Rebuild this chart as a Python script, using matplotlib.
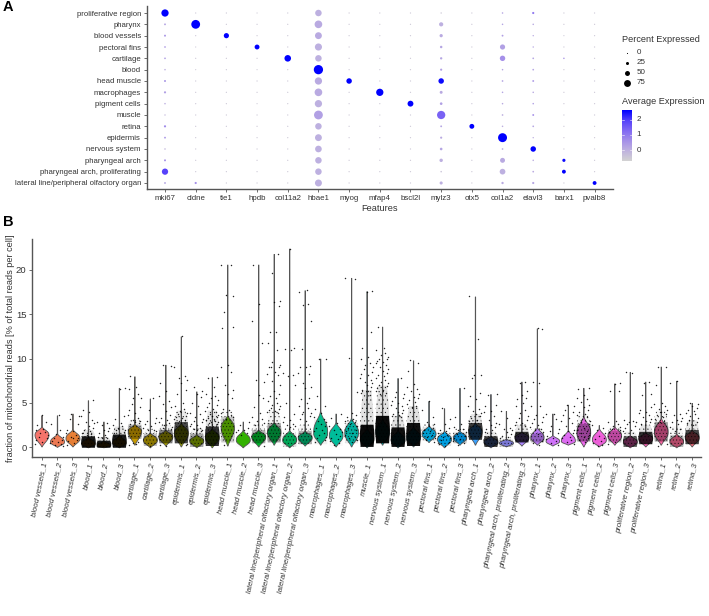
"""Dot plot of marker genes (A) and mitochondrial read violins per sample (B)."""

import matplotlib
matplotlib.use("Agg")
import matplotlib.pyplot as plt
import numpy as np
from matplotlib.colors import LinearSegmentedColormap

plt.rcParams['font.family'] = ['Liberation Sans', 'DejaVu Sans']
plt.rcParams['hatch.linewidth'] = 0.3

W, H = 709, 616

# ---- panel A data ----
clusters = ["proliferative region", "pharynx", "blood vessels", "pectoral fins", "cartilage",
            "blood", "head muscle", "macrophages", "pigment cells", "muscle", "retina",
            "epidermis", "nervous system", "pharyngeal arch", "pharyngeal arch, proliferating",
            "lateral line/peripheral olfactory organ"]
features = ["mki67", "cldne", "tie1", "hpdb", "col11a2", "hbae1", "myog", "mfap4", "bscl2l",
            "mylz3", "otx5", "col1a2", "elavl3", "barx1", "pvalb8"]
pct_expressed = [
    [80, 2, 2, 1, 2, 70, 2, 2, 2, 4, 2, 6, 14, 2, 2],
    [10, 100, 2, 2, 2, 85, 2, 2, 2, 40, 2, 6, 6, 2, 2],
    [12, 2, 53, 2, 2, 75, 2, 2, 2, 28, 2, 10, 4, 1, 2],
    [8, 1, 2, 49, 2, 78, 2, 2, 2, 18, 2, 53, 4, 2, 2],
    [8, 2, 2, 2, 71, 70, 2, 2, 2, 16, 2, 56, 8, 6, 2],
    [6, 1, 2, 1, 2, 106, 2, 1, 2, 14, 2, 6, 8, 2, 2],
    [12, 2, 2, 2, 2, 80, 57, 2, 2, 57, 2, 8, 10, 2, 2],
    [14, 2, 2, 2, 2, 85, 2, 80, 2, 24, 2, 6, 6, 2, 2],
    [6, 2, 2, 1, 2, 80, 2, 2, 62, 20, 2, 6, 6, 2, 2],
    [4, 2, 2, 2, 2, 100, 2, 2, 2, 93, 2, 8, 10, 2, 2],
    [14, 2, 2, 2, 2, 70, 2, 2, 2, 10, 49, 6, 8, 2, 2],
    [10, 2, 2, 2, 2, 75, 2, 2, 2, 14, 2, 102, 4, 2, 2],
    [6, 2, 2, 2, 2, 72, 2, 2, 2, 20, 2, 8, 57, 2, 2],
    [12, 2, 2, 2, 2, 70, 2, 2, 2, 30, 2, 50, 6, 27, 2],
    [67, 2, 2, 2, 2, 70, 2, 2, 2, 6, 2, 60, 8, 36, 2],
    [10, 14, 2, 2, 2, 76, 2, 2, 2, 26, 2, 16, 14, 2, 36],
]
avg_expression = [
    [2.6, -.5, -.5, -.5, -.5, 0.0, -.5, -.5, -.5, -.5, -.5, 0.2, 1.0, -.5, -.5],
    [0.2, 2.6, -.5, -.5, -.5, 0.1, -.5, -.5, -.5, 0.0, -.5, 0.2, 0.1, -.5, -.5],
    [0.4, -.5, 2.6, -.5, -.5, 0.1, -.5, -.5, -.5, 0.1, -.5, 0.3, 0.1, -.5, -.5],
    [0.3, -.5, -.5, 2.6, -.5, 0.0, -.5, -.5, -.5, 0.2, -.5, 0.3, 0.2, -.5, -.5],
    [0.3, -.5, -.5, -.5, 2.6, 0.0, -.5, -.5, -.5, 0.2, -.5, 0.6, 0.2, 0.4, -.5],
    [0.0, -.5, -.5, -.5, -.5, 2.6, -.5, -.5, -.5, 0.3, -.5, 0.2, 0.2, -.5, -.5],
    [0.4, -.5, -.5, -.5, -.5, 0.1, 2.6, -.5, -.5, 2.5, -.5, 0.2, 0.4, -.5, -.5],
    [0.3, -.5, -.5, -.5, -.5, 0.1, -.5, 2.6, -.5, 0.1, -.5, 0.2, 0.1, -.5, -.5],
    [0.0, -.5, -.5, -.5, -.5, 0.0, -.5, -.5, 2.6, 0.3, -.5, 0.1, 0.3, -.5, -.5],
    [-.2, -.5, -.5, -.5, -.5, 0.3, -.5, -.5, -.5, 1.4, -.5, 0.0, 0.6, -.5, -.5],
    [0.7, -.5, -.5, -.5, -.5, 0.0, -.5, -.5, -.5, 0.2, 2.6, 0.0, 0.2, -.5, -.5],
    [0.4, -.5, -.5, -.5, -.5, 0.0, -.5, -.5, -.5, 0.1, -.5, 2.6, 0.0, -.5, -.5],
    [-.2, -.5, -.5, -.5, -.5, 0.0, -.5, -.5, -.5, 0.2, -.5, 0.0, 2.6, -.5, -.5],
    [0.5, -.5, -.5, -.5, -.5, 0.0, -.5, -.5, -.5, 0.0, -.5, 0.1, 0.0, 2.5, -.5],
    [1.9, -.5, -.5, -.5, -.5, 0.0, -.5, -.5, -.5, -.4, -.5, 0.0, 0.1, 2.6, -.5],
    [0.2, 0.6, -.5, -.5, -.5, 0.0, -.5, -.5, -.5, 0.0, -.5, 0.1, 0.2, -.5, 2.6],
]
legend_pct = [0, 25, 50, 75]
legend_exp_ticks = [2, 1, 0]
exp_range = (-0.7, 2.6)

# ---- panel B data ----
samples = ["blood vessels_1", "blood vessels_2", "blood vessels_3", "blood_1", "blood_2", "blood_3",
           "cartilage_1", "cartilage_2", "cartilage_3", "epidermis_1", "epidermis_2", "epidermis_3",
           "head muscle_1", "head muscle_2", "head muscle_3",
           "lateral line/peripheral olfactory organ_1", "lateral line/peripheral olfactory organ_2",
           "lateral line/peripheral olfactory organ_3", "macrophages_1", "macrophages_2", "macrophages_3",
           "muscle_1", "nervous system_1", "nervous system_2", "nervous system_3",
           "pectoral fins_1", "pectoral fins_2", "pectoral fins_3", "pharyngeal arch_1", "pharyngeal arch_2",
           "pharyngeal arch, proliferating_2", "pharyngeal arch, proliferating_3",
           "pharynx_1", "pharynx_2", "pharynx_3", "pigment cells_1", "pigment cells_2", "pigment cells_3",
           "proliferative region_2", "proliferative region_3", "retina_1", "retina_2", "retina_3"]
viol_top = [3.6, 3.6, 3.8, 5.3, 2.9, 6.7, 8.0, 5.5, 9.3, 12.5, 6.3, 7.9, 20.6, 2.9, 20.6, 21.8, 22.4, 17.7,
            10.0, 3.8, 19.1, 17.6, 13.6, 7.8, 9.8, 5.2, 4.4, 6.7, 17.0, 6.0, 4.1, 7.4, 13.4, 3.8, 4.8, 6.7,
            2.5, 7.2, 8.5, 7.4, 9.1, 7.5, 5.0]
viol_mid = [1.4, .6, 1.0, .4, .2, .5, 1.8, .8, 1.2, 1.6, .7, 1.1, 2.2, .8, 1.2, 1.7, .8, 1.1, 1.6, 1.3, 1.6,
            .9, 1.7, .8, 1.1, 1.5, .9, 1.1, 1.8, .6, .5, 1.1, 1.1, .7, .7, 1.6, .8, 1.3, .6, 1.0, 1.7, .6, 1.1]
viol_bottom = [.1, .05, .1, 0, 0, 0, .3, 0, .2, .1, 0, 0, .2, 0, .1, .3, 0, .2, .3, .1, .1, 0, .3, 0, .1, .6,
               0, .3, .3, 0, .1, .2, .3, .2, .3, .1, .1, .3, 0, .1, .3, 0, .1]
viol_shoulder = [2.4, 1.6, 2.1, 1.2, .8, 1.4, 2.7, 1.7, 2.0, 2.8, 1.5, 2.2, 3.7, 2.0, 2.0, 2.9, 2.0, 1.9,
                 4.2, 2.9, 3.4, 2.2, 3.3, 2.0, 2.4, 2.5, 1.9, 1.9, 2.8, 1.3, 1.0, 1.8, 2.3, 1.4, 2.0, 3.6,
                 2.2, 2.4, 1.4, 1.7, 3.4, 1.6, 2.0]
viol_width = [.45, .45, .45, .44, .44, .44, .42, .45, .45, .45, .45, .45, .42, .45, .45, .43, .45, .45,
              .45, .44, .44, .44, .45, .45, .45, .45, .45, .42, .42, .45, .45, .45, .42, .44, .45, .44,
              .45, .44, .45, .45, .44, .44, .45]
cloud_low = [.9, .2, .5, 0, 0, 0, 1.0, .2, .5, .5, .1, .2, .6, .1, .5, .6, .1, .4, .4, .2, .5, .1, .5, .1, .2,
             .8, .2, .5, .9, .1, .1, .6, .6, .3, .3, .7, .2, .6, .1, .4, .7, .1, .4]
cloud_high = [1.9, 1.0, 1.5, 1.3, .8, 1.5, 2.6, 1.6, 2.0, 2.9, 1.6, 2.4, 3.5, 1.5, 2.0, 2.8, 1.6, 1.9, 3.2, 2.2,
              2.8, 2.6, 3.6, 2.3, 2.8, 2.3, 1.6, 1.7, 2.8, 1.3, .9, 1.8, 1.6, 1.1, 1.4, 2.7, 1.5, 1.9, 1.3,
              1.8, 2.9, 1.4, 2.0]
cloud_alpha = [.1, .15, .15, .95, .95, .95, .55, .5, .7, .85, .6, .9, .45, .15, .55, .6, .35, .55, .25, .15, .3,
               .98, .98, .97, .97, .35, .3, .45, .88, .88, .4, .9, .5, .15, .15, .6, .2, .5, .8, .9, .6,
               .55, .85]
halo_top = [2.2, 1.4, 1.9, 2.0, 1.2, 2.4, 3.2, 2.1, 2.6, 4.2, 2.2, 4.2, 4.2, 1.8, 2.6, 4.2, 2.2, 2.6, 3.6, 2.4,
            3.2, 6.5, 7.0, 3.6, 4.7, 2.6, 1.8, 2.1, 3.8, 1.8, 1.1, 2.6, 2.2, 1.3, 1.6, 3.8, 1.7, 2.4, 1.8,
            2.6, 4.2, 2.4, 3.1]
sparse_y = [
    [3.6, 2.8, 2.5, 2.1, 1.9, 1.7, 1.6, 1.4, 1.2, 1.0, .8, .6, .4],
    [3.6, 2.6, 1.9, 1.5, 1.2, 1.0, .8, .7, .6, .5, .4, .3, .2],
    [3.8, 3.5, 3.2, 2.6, 2.0, 1.8, 1.6, 1.4, 1.2, 1.1, 1.0, .8, .7, .5, .3],
    [5.3, 4.2, 4.0, 3.5, 3.1, 2.8, 2.7, 2.4, 2.2, 2.0, 1.8, 1.6, 1.5, 1.4],
    [2.9, 2.7, 2.5, 2.2, 2.0, 1.8, 1.6, 1.4, 1.2, 1.1, 1.0],
    [6.7, 6.6, 3.5, 3.2, 2.7, 2.5, 2.4, 2.2, 2.0, 1.9, 1.7, 1.6],
    [8.0, 6.8, 6.6, 6.0, 5.6, 5.5, 4.9, 4.5, 4.2, 3.9, 3.6, 3.3, 3.1, 3.0, 2.8, 2.7, 2.6, .4, .3, .6, .5],
    [5.5, 4.2, 3.3, 3.0, 2.7, 2.6, 2.4, 2.2, 2.0, 1.9, 1.8, .2],
    [9.3, 9.2, 7.3, 6.3, 5.8, 5.2, 4.9, 4.5, 4.1, 3.6, 3.3, 3.1, 2.9, 2.7, 2.5, 2.3, 2.2, 2.1, .3, .2],
    [12.5, 9.0, 8.0, 7.8, 7.6, 7.2, 6.5, 6.0, 5.0, 4.7, 4.3, 4.1, 3.9, 3.7, 3.5, 3.4, 3.3, 3.2, 3.1, 3.0, .4, .5, .3],
    [6.8, 6.3, 6.0, 5.7, 5.0, 4.7, 3.9, 3.7, 3.4, 3.2, 3.0, 2.8, 2.6, 2.5, 2.4, 2.2, 2.1, 2.0, 1.9, 1.8],
    [7.9, 7.8, 6.8, 6.0, 5.8, 5.5, 5.3, 5.0, 4.8, 4.5, 4.3, 4.1, 4.0, 3.8, 3.6, 3.5, 3.4, 3.3, 3.2, 3.1, 3.0, 2.9,
     2.8, 2.7, 2.6],
    [20.6, 20.5, 17.2, 17.0, 15.2, 13.6, 13.5, 9.3, 9.0, 8.5, 7.0, 6.5, 6.0, 5.5, 4.3, 4.2, 3.9, 3.6, 3.2, 3.4, .3],
    [2.9, 2.5, 2.2, 2.0, 1.9, 1.7, 1.6, 1.4],
    [20.6, 16.1, 14.2, 11.8, 7.6, 7.4, 5.9, 5.6, 4.5, 3.9, 3.4, 3.2, 3.0, 2.7, 2.5, .2],
    [21.8, 19.6, 16.5, 16.4, 15.9, 13.0, 13.0, 11.8, 11.0, 9.6, 9.3, 9.1, 9.1, 9.0, 8.5, 8.3, 8.2, 7.5, 7.0, 6.3,
     6.0, 5.8, 5.5, 5.2, 5.0, 4.8, 4.6, 4.4, 4.3, 4.2, 4.1, 4.0, 3.9],
    [22.4, 11.2, 11.1, 11.0, 8.4, 8.1, 8.0, 7.0, 5.0, 3.8, 3.4, 3.1, 2.8, 2.6, 2.5, 2.4, 2.3],
    [17.7, 17.5, 16.2, 16.0, 14.2, 11.1, 9.2, 9.1, 9.0, 8.4, 8.3, 7.3, 6.8, 6.7, 5.6, 5.4, 5.0, 4.6, 4.4, 4.0, 3.9,
     3.7, 3.5, 3.2, 3.0],
    [10.0, 9.9, 5.8, 4.6, 4.3, 3.9, 3.4, 3.2, 3.0, 2.8, 2.6, 2.4, 2.2, 2.0, 1.8, 1.6, 1.4, 1.2, 1.0, .8, .6],
    [3.8, 3.3, 2.7, 2.4, 2.1, 1.9, 1.7, 1.5, 1.3, 1.1, .9, .7, .5, .3],
    [19.1, 19.0, 10.1, 6.2, 3.9, 3.6, 3.4, 3.2, 3.0, 2.8, 2.6, 2.4, 2.2, 2.0, 1.8, 1.6, 1.4, 1.2, 1.0, .8, .6],
    [17.6, 17.5, 13.0, 11.2, 10.2, 9.9, 9.5, 9.3, 9.0, 8.8, 8.5, 8.3, 8.1, 7.8, 7.6, 7.4, 7.2, 7.0, 6.8, 6.5, 6.3,
     6.1, 5.9],
    [13.6, 11.2, 11.0, 10.6, 10.4, 10.2, 10.0, 9.9, 9.7, 9.6, 9.5, 9.3, 9.1, 8.8, 8.6, 8.4, 8.2, 8.0, 7.8, 7.6, 7.4,
     7.2, 7.0, 6.9, 6.7, 6.5, 6.3, 6.1, 6.0],
    [7.8, 6.2, 6.0, 5.7, 5.5, 5.2, 5.0, 4.8, 4.6, 4.4, 4.2, 4.0, 3.9, 3.7, 3.6, 3.5, 3.4],
    [9.8, 9.5, 8.6, 7.1, 6.8, 6.6, 6.3, 6.0, 5.7, 5.5, 5.3, 5.1, 4.9, 4.7, 4.5],
    [5.2, 4.2, 3.4, 2.8, 2.6, 2.4, 2.2, 2.0, 1.8, 1.6, 1.4, 1.2, 1.0, .8, .6],
    [4.4, 3.2, 2.6, 2.2, 2.0, 1.8, 1.6, 1.4, 1.2, 1.0, .8, .6, .4, .2],
    [6.7, 3.4, 2.6, 2.3, 2.1, 1.9, 1.7, 1.5, 1.3, 1.1, .9, .7, .5, .3],
    [17.0, 12.2, 8.2, 8.1, 7.8, 6.1, 5.8, 5.4, 4.7, 4.3, 4.1, 3.9, 3.7, 3.5, 3.3, 3.1, 3.0],
    [6.0, 5.9, 4.8, 4.7, 4.1, 4.0, 3.5, 3.1, 2.7, 2.5, 2.3, 2.1, 1.9, 1.7],
    [4.1, 3.3, 2.6, 2.2, 2.1, 1.9, 1.7, 1.5, 1.3, 1.2, 1.1],
    [7.4, 7.2, 6.3, 5.9, 5.6, 5.4, 5.0, 4.6, 4.2, 3.9, 3.5, 3.3, 3.1, 2.9, 2.7, 2.5, 2.4],
    [13.4, 13.3, 7.4, 7.3, 4.7, 4.6, 3.6, 3.4, 3.2, 2.9, 2.7, 2.5, 2.3, 2.1, 1.9, 1.7, 1.5, .7, .5, .3],
    [3.8, 3.7, 3.2, 2.4, 2.1, 1.8, 1.6, 1.3, 1.1, .9, .7, .5, .3],
    [4.8, 4.7, 4.2, 4.0, 3.6, 3.3, 3.0, 2.7, 2.4, 2.0, 1.8, 1.6, 1.4, 1.2, 1.0, .8, .6, .4],
    [6.7, 6.6, 5.9, 5.6, 5.4, 5.1, 4.8, 4.5, 4.2, 4.0, 3.8, 3.6, 3.4, 3.2, 3.0, 2.8, 2.6, 2.4, 2.2, 2.0, 1.8, 1.6,
     1.4, 1.2, 1.0, .8, .6],
    [2.5, 2.2, 1.9, 1.6, 1.3, 1.1, .9, .7, .5, .3, .2],
    [7.2, 7.1, 6.4, 6.3, 3.0, 2.8, 2.6, 2.4, 2.3, 2.1, 1.9, 1.7, .6, .4],
    [8.5, 8.4, 3.1, 3.0, 2.9, 2.8, 2.6, 2.4, 2.2, 2.0, 1.8],
    [7.4, 7.2, 6.0, 5.9, 4.5, 4.2, 4.0, 3.9, 3.6, 3.4, 3.2, 3.0, 2.8, 2.6],
    [9.1, 9.0, 7.0, 5.0, 4.9, 4.6, 4.3, 4.2, 4.0, 3.8, 3.6, 3.4, 3.2, 3.0, 2.8, .4, .2],
    [7.5, 7.3, 3.8, 3.6, 3.3, 3.1, 3.0, 2.8, 2.6, 2.3, 2.1, 1.8],
    [5.0, 4.9, 4.7, 4.4, 4.2, 4.1, 3.9, 3.7, 3.5, 3.3, 3.1, 2.9, 2.7, 2.5],
]
jitter_cycle = [.04, .31, -.27, .12, -.38, .22, -.08, .4, -.18, .34, -.33, .06, -.42, .26, -.12, .38]


def px_axes(fig, x0, y0, x1, y1):
    return fig.add_axes([x0 / W, 1 - y1 / H, (x1 - x0) / W, (y1 - y0) / H])


def hcl_rgb(h, c=100.0, l=65.0):
    """ggplot-style hue colour from polar LUV."""
    hr = np.radians(h)
    u, v = c * np.cos(hr), c * np.sin(hr)
    y = ((l + 16) / 116) ** 3
    un, vn = 0.19784, 0.46834
    up, vp = u / (13 * l) + un, v / (13 * l) + vn
    x = 9 * y * up / (4 * vp)
    z = y * (12 - 3 * up - 20 * vp) / (4 * vp)
    lin = np.array([[3.2406, -1.5372, -0.4986], [-0.9689, 1.8758, 0.0415], [0.0557, -0.2040, 1.0570]]).dot([x, y, z])
    lin = np.clip(lin, 0, 1)
    rgb = np.where(lin <= 0.0031308, 12.92 * lin, 1.055 * lin ** (1 / 2.4) - 0.055)
    return tuple(rgb)


def ease_profile(levels, widths, n=24):
    """Smooth half-width outline through (level, width) knots, bulging outward."""
    ys, ws = [], []
    for i in range(len(levels) - 1):
        t = np.linspace(0, 1, n)
        e = (1 - np.cos(np.pi * t)) / 2
        e = e ** (0.7 if widths[i + 1] > widths[i] else 1.5)
        ys.append(levels[i] + (levels[i + 1] - levels[i]) * t)
        ws.append(widths[i] + (widths[i + 1] - widths[i]) * e)
    return np.concatenate(ys), np.concatenate(ws)


def style_axes(ax):
    ax.spines[['top', 'right']].set_visible(False)
    ax.spines[['left', 'bottom']].set_color('#555555')
    ax.spines[['left', 'bottom']].set_linewidth(1.0)


def dot_size(pct):
    d_px = 1.1 + 0.077 * pct
    return (d_px * 0.72) ** 2


def draw_dotplot(fig):
    ax = px_axes(fig, 146.5, 6, 613, 189)
    cmap = LinearSegmentedColormap.from_list(
        "expr", ["#D3D3D3", "#BFB2DF", "#A48FE9", "#8169F3", "#5440FA", "#0000FF"])
    xs, ys, sizes, vals = [], [], [], []
    for r in range(len(clusters)):
        for c in range(len(features)):
            xs.append(c)
            ys.append(r)
            sizes.append(dot_size(pct_expressed[r][c]))
            vals.append(avg_expression[r][c])
    ax.scatter(xs, ys, s=sizes, c=vals, cmap=cmap, vmin=exp_range[0], vmax=exp_range[1], linewidths=0)
    ax.set_xlim(-0.603, 14.6)
    ax.set_ylim(15.53, -0.618)
    ax.set_xticks(range(len(features)), features)
    ax.set_yticks(range(len(clusters)), clusters)
    ax.tick_params(axis='x', labelsize=5.7, length=2, width=0.6, color='#555555', pad=2.5, labelcolor='#333333')
    ax.tick_params(axis='y', labelsize=5.6, length=2, width=0.6, color='#555555', pad=2, labelcolor='#333333')
    style_axes(ax)
    ax.set_xlabel("Features", fontsize=6.6, color='#333333', labelpad=1.5)

    # legends, placed in pixel space
    leg = px_axes(fig, 0, 0, W, H)
    leg.set_xlim(0, W)
    leg.set_ylim(H, 0)
    leg.axis('off')
    leg.patch.set_alpha(0)
    leg.text(622, 39.5, "Percent Expressed", fontsize=6.6, va='center', color='#333333')
    for i, p in enumerate(legend_pct):
        leg.scatter(627, 53 + 10 * i, s=dot_size(p), color='black', linewidths=0)
        leg.text(636.5, 53 + 10 * i, str(p), fontsize=5.8, va='center', color='#333333')
    leg.text(622, 102, "Average Expression", fontsize=6.6, va='center', color='#333333')

    cax = px_axes(fig, 622, 110.5, 632, 161)
    grad = np.linspace(exp_range[1], exp_range[0], 128).reshape(-1, 1)
    cax.imshow(grad, aspect='auto', cmap=cmap, vmin=exp_range[0], vmax=exp_range[1],
               extent=[0, 1, exp_range[0], exp_range[1]])
    cax.set_xticks([])
    cax.set_yticks([])
    for s in cax.spines.values():
        s.set_visible(False)
    for t in legend_exp_ticks:
        cax.plot([0, 0.2], [t, t], color='white', lw=0.4)
        cax.plot([0.8, 1], [t, t], color='white', lw=0.4)
        cax.text(1.45, t, str(t), fontsize=5.8, va='center', color='#333333')
    cax.set_xlim(0, 1)
    cax.set_ylim(exp_range)


def draw_violins(fig):
    ax = px_axes(fig, 32, 239, 701, 457.3)
    n = len(samples)
    hues = np.linspace(15, 375, n, endpoint=False)
    for i in range(n):
        levels = [viol_bottom[i], viol_mid[i], viol_shoulder[i], viol_top[i]]
        widths = [.02, viol_width[i], .015, .012]
        y, w = ease_profile(levels, widths)
        ax.fill_betweenx(y, i - w, i + w, facecolor=hcl_rgb(hues[i]), edgecolor='#555555', linewidth=0.6, zorder=2)

        # dense part of the cell cloud: solid when packed, speckled when not
        a = cloud_alpha[i]
        cy, cw = ease_profile([cloud_low[i], (cloud_low[i] + cloud_high[i]) / 2, cloud_high[i]], [.42, .47, .42])
        ax.fill_betweenx(cy, i - cw, i + cw, color='black', alpha=a ** 2, linewidth=0, zorder=3)
        if a >= 0.3:
            ax.fill_betweenx(cy, i - cw, i + cw, facecolor='none', edgecolor=(0, 0, 0, 0.8), hatch='.....',
                             linewidth=0, zorder=3)
        hy, hw = ease_profile([cloud_high[i], halo_top[i]], [.42, .3])
        ax.fill_betweenx(hy, i - hw, i + hw, color='black', alpha=a ** 2 * 0.12, linewidth=0, zorder=3)
        if a >= 0.3:
            ax.fill_betweenx(hy, i - hw, i + hw, facecolor='none', edgecolor=(0, 0, 0, 0.8), hatch='....',
                             linewidth=0, zorder=3)

        vals = sparse_y[i]
        dx = [jitter_cycle[(j + i * 3) % len(jitter_cycle)] for j in range(len(vals))]
        ax.scatter(np.add(i, dx), vals, s=1.1, color='black', alpha=0.85, linewidths=0, zorder=4)

    ax.set_xlim(-0.614, 42.6)
    ax.set_ylim(-1.13, 23.48)
    ax.set_yticks([0, 5, 10, 15, 20])
    ax.set_xticks(range(n))
    ax.set_xticklabels(samples, rotation=78, ha='right', rotation_mode='anchor', style='italic', fontsize=5.6,
                       color='#333333')
    ax.tick_params(axis='y', labelsize=6.8, length=2, width=0.6, color='#555555', pad=2, labelcolor='#333333')
    ax.tick_params(axis='x', length=2, width=0.6, color='#555555', pad=1.5)
    style_axes(ax)
    fig.text(11 / W, 1 - 348 / H, "fraction of mitochondrial reads [% of total reads per cell]", rotation=90,
             fontsize=6.6, ha='center', va='center', color='#333333')


def main():
    fig = plt.figure(figsize=(W / 100, H / 100), dpi=100)
    draw_dotplot(fig)
    draw_violins(fig)
    fig.text(3 / W, 1 - 7 / H, "A", fontsize=10.5, fontweight='bold', va='center')
    fig.text(3 / W, 1 - 222 / H, "B", fontsize=10.5, fontweight='bold', va='center')
    fig.savefig("out.png", dpi=100)


if __name__ == "__main__":
    main()
